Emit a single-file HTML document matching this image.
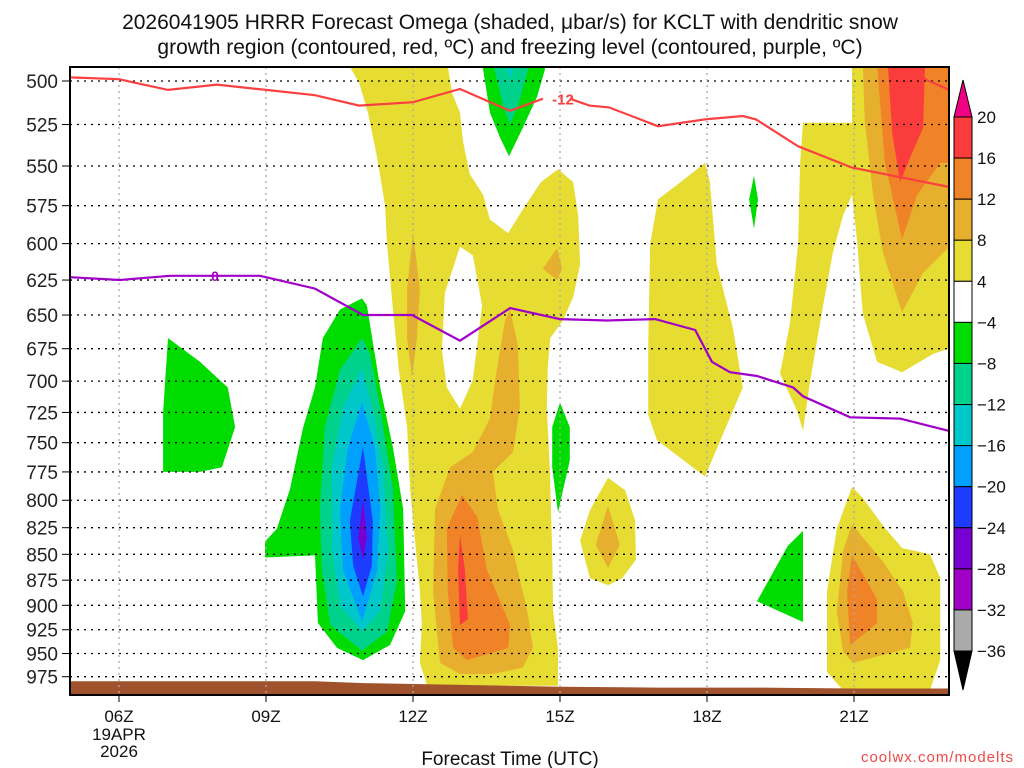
<!DOCTYPE html>
<html><head><meta charset="utf-8">
<style>
html,body{margin:0;padding:0;background:#fff;}
svg{display:block;font-family:"Liberation Sans","DejaVu Sans",sans-serif;}
</style></head>
<body>
<svg id="chart" width="1024" height="768" viewBox="0 0 1024 768" xmlns="http://www.w3.org/2000/svg">
  <text x="510" y="29" text-anchor="middle" font-size="21" fill="#111">2026041905 HRRR Forecast Omega (shaded, μbar/s) for KCLT with dendritic snow</text>
  <text x="510" y="54" text-anchor="middle" font-size="21" fill="#111">growth region (contoured, red, ºC) and freezing level (contoured, purple, ºC)</text>
  <defs><clipPath id="plotclip"><rect x="70" y="67" width="879" height="628"/></clipPath></defs>
  <g id="shading" clip-path="url(#plotclip)"></g>
  <g id="grid"></g>
  <g id="lines" clip-path="url(#plotclip)"></g>
  <g id="axes"></g>
  <g id="colorbar"></g>
  <text x="510" y="765" text-anchor="middle" font-size="19" fill="#111">Forecast Time (UTC)</text>
  <text x="1014" y="762" text-anchor="end" font-size="15" fill="#f04848" letter-spacing="1">coolwx.com/modelts</text>
</svg>
<script>
// ---- data ----
const pressureTicks = [500,525,550,575,600,625,650,675,700,725,750,775,800,825,850,875,900,925,950,975];
const hourTicks = [6,9,12,15,18,21];
const hourTickLabels = ["06Z","09Z","12Z","15Z","18Z","21Z"];
const cbarLevels = [20,16,12,8,4,-4,-8,-12,-16,-20,-24,-28,-32,-36];
const cbarColors = ["#fa3c3c","#f08228","#e6af2d","#e6dc32","#ffffff","#00dc00","#00d28c","#00c8c8","#00a0ff","#1e3cff","#7800d2","#a000c8","#aaaaaa"];

// omega contour polygons: [hour, hPa]
const yellowMain = [[10.71,492],[10.9,501],[11.08,518],[11.27,545],[11.43,575],[11.47,600],[11.57,638],[11.71,691],[11.88,737],[11.94,790],[12.14,886],[12.18,918],[12.14,960],[12.29,985],[14.96,985],[14.96,944],[14.86,906],[14.84,846],[14.79,771],[14.73,721],[14.75,689],[14.8,667],[15.06,654],[15.27,637],[15.41,614],[15.37,581],[15.27,560],[14.96,552],[14.61,560],[14.27,576],[13.94,593],[13.57,584],[13.43,568],[13.16,555],[13.02,535],[12.96,518],[12.8,507],[12.71,492]];
const whiteHole = [[12.96,602],[12.65,634],[12.59,676],[12.69,705],[12.96,722],[13.22,699],[13.41,643],[13.22,608]];
const yellowCol18 = [[17.96,548],[17.59,557],[17.0,571],[16.84,600],[16.8,673],[16.8,727],[16.98,748],[17.96,779],[18.73,705],[18.53,660],[18.2,614],[18.06,560]];
const yellowRight = [[19.96,524],[20.96,524],[20.96,490],[23.1,490],[23.1,673],[22.61,679],[21.98,693],[21.47,685],[21.18,649],[21.06,597],[20.96,568],[20.78,581],[20.57,606],[20.37,643],[20.1,701],[19.96,740],[19.84,724],[19.49,694],[19.69,657],[19.86,600],[19.9,548]];
const yellowBlob16 = [[15.98,780],[16.33,791],[16.53,818],[16.55,855],[16.27,873],[15.98,880],[15.61,873],[15.41,837],[15.61,809]];
const yellowLow21 = [[20.96,788],[20.65,826],[20.45,886],[20.45,970],[20.78,990],[22.55,990],[22.76,957],[22.76,873],[22.55,850],[21.98,844],[21.59,823],[21.18,798]];
const goldStrand12 = [[12.0,593],[11.88,631],[11.88,667],[11.98,697],[12.08,667],[12.14,631]];
const goldSmall15 = [[14.65,617],[14.94,603],[15.04,617],[14.94,625]];
const goldLow13 = [[13.98,646],[14.14,673],[14.18,721],[14.04,758],[13.63,775],[13.73,808],[14.04,846],[14.33,906],[14.45,944],[14.24,965],[13.63,972],[12.96,972],[12.55,960],[12.41,886],[12.45,808],[12.76,771],[13.22,758],[13.57,730],[13.71,691],[13.88,654]];
const goldBlob16 = [[15.98,805],[16.22,841],[15.98,863],[15.73,841]];
const goldRight = [[21.18,490],[23.1,490],[23.1,597],[22.41,620],[21.98,648],[21.59,606],[21.39,568],[21.22,523]];
const goldLow21 = [[20.96,822],[20.78,846],[20.65,906],[20.78,948],[20.98,960],[22.14,944],[22.2,918],[22.0,886],[21.59,857]];
const orangeLow13 = [[13.0,795],[12.69,826],[12.71,886],[12.82,944],[13.1,957],[13.94,944],[13.98,920],[13.51,865],[13.31,815]];
const orangeRight = [[21.47,490],[21.63,548],[21.98,597],[22.29,568],[22.76,548],[23.1,548],[23.1,490]];
const orangeLow21 = [[20.96,851],[20.86,886],[20.92,941],[21.47,918],[21.47,894],[21.18,869]];
const redLow13 = [[12.96,832],[12.92,865],[12.96,920],[13.12,914],[13.06,865]];
const redRight = [[21.69,490],[21.78,530],[21.94,560],[22.14,545],[22.41,527],[22.45,490]];
const greenMain = [[10.96,638],[10.51,646],[10.16,667],[10.0,705],[9.76,737],[9.49,790],[9.22,826],[8.98,838],[8.98,853],[10.0,851],[10.06,918],[10.45,944],[10.98,957],[11.53,941],[11.84,906],[11.8,808],[11.59,754],[11.33,705],[11.06,643]];
const tealMain = [[10.96,667],[10.51,691],[10.2,737],[10.1,808],[10.14,865],[10.31,920],[10.96,947],[11.47,927],[11.67,877],[11.59,790],[11.33,721],[11.12,679]];
const cyanMain = [[10.96,690],[10.57,721],[10.35,771],[10.35,846],[10.51,900],[10.96,927],[11.33,906],[11.49,846],[11.39,771],[11.18,724]];
const lblueMain = [[10.96,717],[10.67,754],[10.51,808],[10.57,865],[10.96,917],[11.27,865],[11.33,808],[11.22,754]];
const blueMain = [[10.98,754],[10.71,819],[10.78,861],[10.98,891],[11.16,861],[11.18,819]];
const purpleMain = [[10.98,800],[10.88,834],[10.98,855],[11.06,834]];
const green07 = [[7.0,667],[7.65,685],[8.22,705],[8.37,737],[8.1,771],[7.65,775],[6.9,775],[6.9,725]];
const greenTop14 = [[13.41,490],[13.57,518],[13.78,533],[13.96,544],[14.24,527],[14.53,509],[14.73,490]];
const tealTop14 = [[13.63,490],[13.84,514],[13.98,525],[14.14,514],[14.39,490]];
const cyanTop14 = [[13.88,490],[13.98,499],[14.08,490]];
const green15 = [[15.0,717],[14.84,737],[14.84,771],[14.96,811],[15.2,765],[15.2,737]];
const green19 = [[18.96,556],[18.86,571],[18.96,590],[19.04,571]];
const green20 = [[19.96,828],[19.65,842],[19.02,896],[19.96,917]];

// temperature contours
const redLineHours = [5.0,6.0,7.0,8.0,9.0,10.0,10.9,12.0,12.96,13.98,14.65];
const redLineP = [498,499,505,502,505,508,514,512,504.5,517,510];
const redLine2Hours = [15.2,15.6,16.0,17.0,17.96,18.73,19.0,19.86,20.96,22.94,23.1];
const redLine2P = [510,514,515,526,522,520,522,538,551,563,564];
const redLine3Hours = [22.3,22.45,22.94,23.1];
const redLine3P = [492,499,505,507];
const purpleLineHours = [5.0,6.02,7.04,7.96,8.88,10.0,10.98,11.98,12.96,13.98,15.0,15.96,16.94,17.76,18.1,18.47,19.02,19.76,19.96,20.92,21.94,22.92,23.1];
const purpleLineP = [623,625,622,622,622,631,650,650,669,645,653,654,653,661,685,693,696,705,712,729,730,740,742];
const groundHours = [5,10,11,13,15,17,19,21,23.1];
const groundP = [980,980,982,984,986,987,987,988,988];

// ---- axis functions ----
const X = h => 70 + (h - 5) * 49;
const Y = p => 81 + 892 * Math.log(p / 500);
const NS = "http://www.w3.org/2000/svg";
function mk(tag, attrs, parent){const e=document.createElementNS(NS,tag);for(const k in attrs)e.setAttribute(k,attrs[k]);parent.appendChild(e);return e;}
const ptsStr = arr => arr.map(q => X(q[0]).toFixed(1)+","+Y(q[1]).toFixed(1)).join(" ");

const shading = document.getElementById("shading");
const layers = [
  [yellowMain,"#e6dc32","omega-4-8-main"],[whiteHole,"#ffffff","omega-white-hole"],
  [yellowCol18,"#e6dc32","omega-4-8-18z"],[yellowRight,"#e6dc32","omega-4-8-right"],
  [yellowBlob16,"#e6dc32","omega-4-8-16z"],[yellowLow21,"#e6dc32","omega-4-8-21z-low"],
  [goldStrand12,"#e6af2d","omega-8-12-12z"],[goldSmall15,"#e6af2d","omega-8-12-15z"],
  [goldLow13,"#e6af2d","omega-8-12-13z"],[goldBlob16,"#e6af2d","omega-8-12-16z"],
  [goldRight,"#e6af2d","omega-8-12-right"],[goldLow21,"#e6af2d","omega-8-12-21z"],
  [orangeLow13,"#f08228","omega-12-16-13z"],[orangeRight,"#f08228","omega-12-16-right"],
  [orangeLow21,"#f08228","omega-12-16-21z"],[redLow13,"#fa3c3c","omega-16-20-13z"],
  [redRight,"#fa3c3c","omega-16-20-right"],
  [greenMain,"#00dc00","omega-minus4-11z"],[tealMain,"#00d28c","omega-minus8-11z"],
  [cyanMain,"#00c8c8","omega-minus12-11z"],[lblueMain,"#00a0ff","omega-minus16-11z"],
  [blueMain,"#1e3cff","omega-minus20-11z"],[purpleMain,"#7800d2","omega-minus24-11z"],
  [green07,"#00dc00","omega-minus4-07z"],[greenTop14,"#00dc00","omega-minus4-14z"],
  [tealTop14,"#00d28c","omega-minus8-14z"],[cyanTop14,"#00c8c8","omega-minus12-14z"],
  [green15,"#00dc00","omega-minus4-15z"],[green19,"#00dc00","omega-minus4-19z"],
  [green20,"#00dc00","omega-minus4-20z"]
];
layers.forEach(L=>{
  const el = mk("polygon",{points:ptsStr(L[0]),fill:L[1]},shading);
  
  
});
// ground
const gpts = groundHours.map((h,i)=>[h,groundP[i]]).concat([[23.1,1000],[5,1000]]);
const ground = mk("polygon",{points:ptsStr(gpts),fill:"#a0522d"},shading);



// grid
const grid = document.getElementById("grid");
pressureTicks.forEach(p=>{
  const l = mk("line",{x1:70,x2:949,y1:Y(p),y2:Y(p),stroke:"#000","stroke-width":1.3,"stroke-dasharray":"2 5"},grid);
  
  
});
hourTicks.forEach(h=>{
  const l = mk("line",{x1:X(h),x2:X(h),y1:67,y2:695,stroke:"#aaa","stroke-width":1.3,"stroke-dasharray":"2 4"},grid);
  
  
});

// contour lines
const lines = document.getElementById("lines");
function drawLine(hs,ps,color,name){
  const l = mk("polyline",{points:ptsStr(hs.map((h,i)=>[h,ps[i]])),fill:"none",stroke:color,"stroke-width":2.2},lines);
  
  
}
drawLine(redLineHours,redLineP,"#fa4040","dgz-minus12-contour");
drawLine(redLine2Hours,redLine2P,"#fa4040","dgz-minus12-contour-east");
drawLine(redLine3Hours,redLine3P,"#fa4040","dgz-minus12-contour-corner");
drawLine(purpleLineHours,purpleLineP,"#a000c8","freezing-level-contour");
const rl = mk("text",{x:X(15.0)+3,y:Y(510)+6,"text-anchor":"middle","font-size":15,"font-weight":"bold",fill:"#fa4040"},lines);
rl.textContent="-12";


const pl = mk("text",{x:X(7.96),y:Y(622)+5,"text-anchor":"middle","font-size":14,"font-weight":"bold",fill:"#a000c8"},lines);
pl.textContent="0";



// axes
const axes = document.getElementById("axes");
const frame = mk("rect",{x:70,y:67,width:879,height:628,fill:"none",stroke:"#000","stroke-width":2},axes);


pressureTicks.forEach(p=>{
  const t = mk("line",{x1:62,x2:70,y1:Y(p),y2:Y(p),stroke:"#000","stroke-width":1},axes);
  
  
  const tx = mk("text",{x:58,y:Y(p)+7,"text-anchor":"end","font-size":19,fill:"#222"},axes);
  tx.textContent = p;
  
  
});
hourTicks.forEach((h,i)=>{
  const t = mk("line",{x1:X(h),x2:X(h),y1:695,y2:702,stroke:"#000","stroke-width":1},axes);
  
  
  const tx = mk("text",{x:X(h),y:722,"text-anchor":"middle","font-size":17,fill:"#111"},axes);
  tx.textContent = hourTickLabels[i];
  
  
});
const d1 = mk("text",{x:X(6),y:740,"text-anchor":"middle","font-size":17,fill:"#111"},axes);
d1.textContent="19APR";


const d2 = mk("text",{x:X(6),y:757,"text-anchor":"middle","font-size":17,fill:"#111"},axes);
d2.textContent="2026";



// colorbar
const cb = document.getElementById("colorbar");
const cbTop = 117, cbBot = 651, cbX = 954, cbW = 18;
const binH = (cbBot - cbTop) / cbarColors.length;
cbarColors.forEach((c,i)=>{
  const r = mk("rect",{x:cbX,y:cbTop+i*binH,width:cbW,height:binH,fill:c,stroke:"#000","stroke-width":1},cb);
  
  
});
const tu = mk("polygon",{points:`${cbX},${cbTop} ${cbX+cbW},${cbTop} ${cbX+cbW/2},80`,fill:"#f00082",stroke:"#000","stroke-width":1},cb);


const td = mk("polygon",{points:`${cbX},${cbBot} ${cbX+cbW},${cbBot} ${cbX+cbW/2},690`,fill:"#000",stroke:"#000","stroke-width":1},cb);


cbarLevels.forEach((v,i)=>{
  const tx = mk("text",{x:977,y:cbTop+i*binH+6,"font-size":17,fill:"#111"},cb);
  tx.textContent = v<0 ? "\u2212"+Math.abs(v) : String(v);
  
  
});
</script>
</body></html>
